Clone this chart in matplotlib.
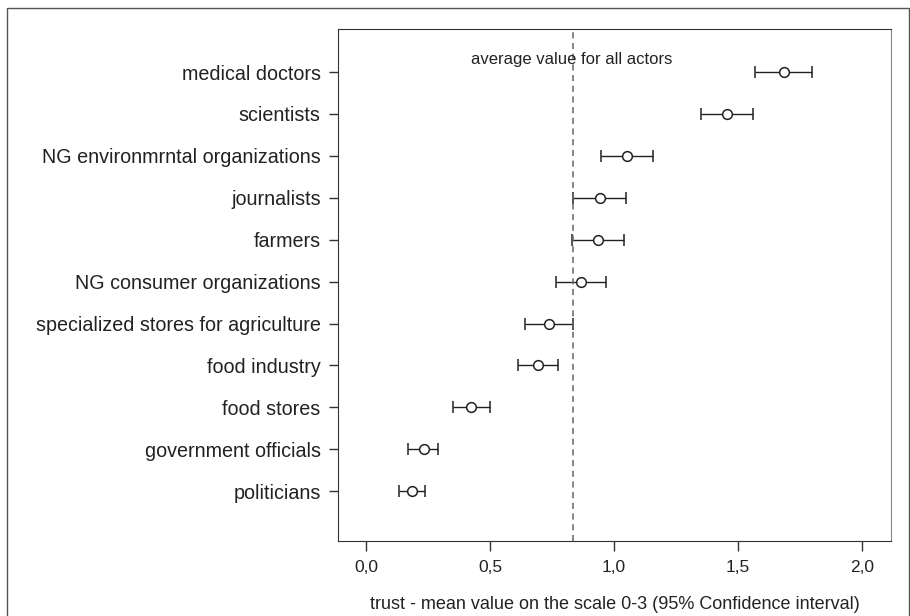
import matplotlib.pyplot as plt
from matplotlib.patches import Rectangle
from matplotlib.ticker import FuncFormatter

# Trust in actors: mean value and 95% confidence interval
actors = ['medical doctors', 'scientists', 'NG environmrntal organizations',
          'journalists', 'farmers', 'NG consumer organizations',
          'specialized stores for agriculture', 'food industry', 'food stores',
          'government officials', 'politicians']
mean = [1.687, 1.457, 1.051, 0.944, 0.935, 0.866, 0.739, 0.693, 0.425, 0.232, 0.186]
ci_low = [1.570, 1.352, 0.947, 0.836, 0.832, 0.768, 0.642, 0.613, 0.350, 0.171, 0.135]
ci_high = [1.800, 1.560, 1.157, 1.050, 1.039, 0.966, 0.836, 0.774, 0.501, 0.292, 0.237]
average_all = 0.836

plt.rcParams['font.family'] = ['Liberation Sans', 'DejaVu Sans']

fig = plt.figure(figsize=(9.1, 6.16), dpi=100)
ax = fig.add_axes([0.3714, 0.1218, 0.6077, 0.8319])

# outer frame around the whole figure
fig.patches.append(Rectangle((7 / 910, -0.05), 902 / 910, 1.05 - 8 / 616,
                             transform=fig.transFigure, fill=False,
                             edgecolor='#555555', linewidth=1.0))

ypos = list(range(len(actors)))
xerr = [[m - lo for m, lo in zip(mean, ci_low)],
        [hi - m for m, hi in zip(mean, ci_high)]]
ax.errorbar(mean, ypos, xerr=xerr, fmt='o', mfc='white', mec='#222222',
            mew=1.1, ms=7, ecolor='#222222', elinewidth=1.0,
            capsize=4.5, capthick=1.0)

ax.axvline(average_all, color='#666666', linestyle=(0, (4, 3)), linewidth=1.1)
ax.text(average_all - 0.005, -0.31, 'average value for all actors',
        ha='center', va='center', fontsize=12, color='#222222')

ax.set_xlim(-0.113, 2.117)
ax.set_ylim(11.19, -1.04)
ax.set_xticks([0, 0.5, 1.0, 1.5, 2.0])
ax.xaxis.set_major_formatter(FuncFormatter(lambda v, p: f'{v:.1f}'.replace('.', ',')))
ax.set_yticks(ypos)
ax.set_yticklabels(actors, fontsize=14.2)
ax.tick_params(axis='x', labelsize=12.5, direction='out', length=7, width=1,
               color='#333333', labelcolor='#222222', pad=7)
ax.tick_params(axis='y', direction='out', length=6.5, width=1,
               color='#333333', labelcolor='#222222', pad=6)
ax.set_xlabel('trust - mean value on the scale 0-3 (95% Confidence interval)',
              fontsize=13, color='#222222', labelpad=15)

for side in ['left', 'bottom', 'top']:
    ax.spines[side].set_color('#333333')
ax.spines['right'].set_color('#888888')

fig.savefig('out.png', dpi=100)
